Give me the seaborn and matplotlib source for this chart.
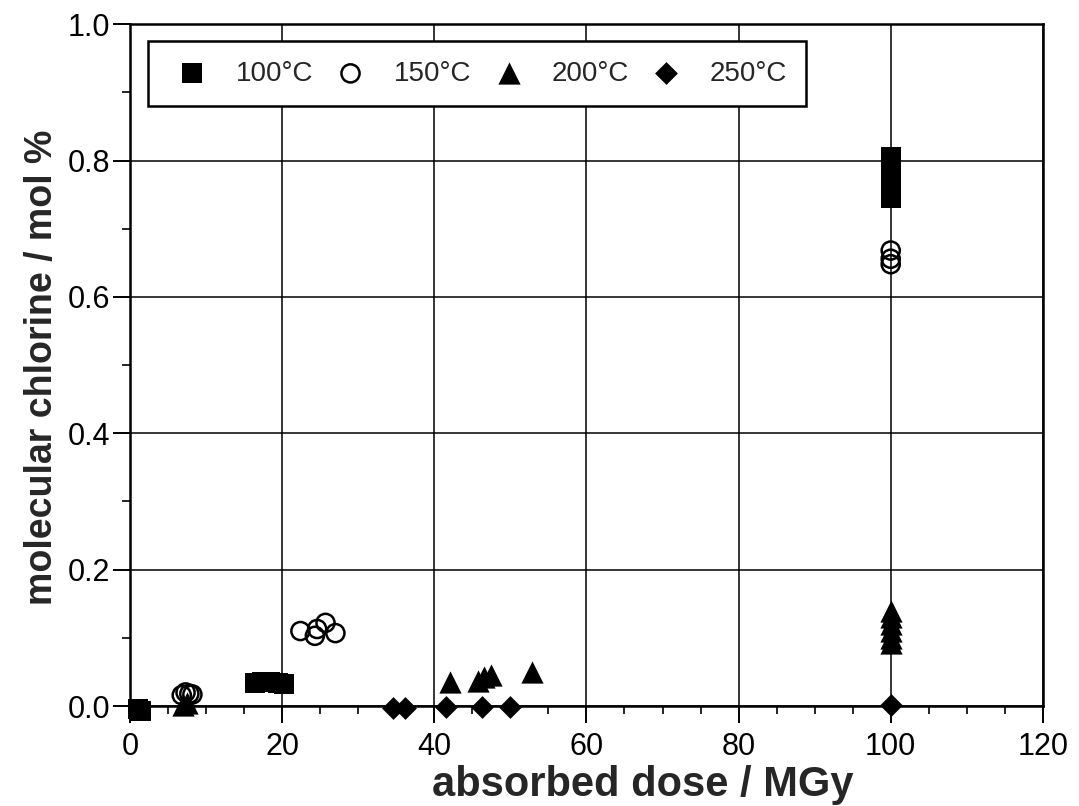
import matplotlib as mpl
mpl.use("Agg")

import matplotlib.pyplot as plt
from matplotlib.ticker import MultipleLocator, FormatStrFormatter
import seaborn as sns
import pandas as pd

sns.set_style("ticks")
plt.rcParams["font.family"] = ["Liberation Sans", "DejaVu Sans"]

# values
dose_100 = [1.0, 1.4, 16.4, 17.4, 18.4, 19.4, 20.3, 100, 100, 100, 100, 100]
cl2_100 = [-0.004, -0.007, 0.034, 0.035, 0.035, 0.034, 0.033, 0.745, 0.76, 0.775, 0.79, 0.805]

dose_150 = [6.8, 7.3, 7.8, 8.2, 22.4, 24.3, 24.6, 25.7, 27.0, 100, 100, 100]
cl2_150 = [0.016, 0.020, 0.018, 0.017, 0.110, 0.103, 0.113, 0.122, 0.107, 0.668, 0.656, 0.648]

dose_200 = [7.0, 7.5, 42.0, 45.8, 46.5, 47.5, 52.8, 100, 100, 100, 100, 100, 100]
cl2_200 = [0.002, 0.004, 0.036, 0.037, 0.042, 0.045, 0.050, 0.092, 0.10, 0.11, 0.12, 0.13, 0.14]

dose_250 = [34.6, 36.2, 41.5, 46.3, 50.0, 100]
cl2_250 = [-0.003, -0.003, -0.002, -0.002, -0.001, 0.001]

temps = ["100°C", "150°C", "200°C", "250°C"]

df = pd.concat([
    pd.DataFrame({"dose": dose_100, "cl2": cl2_100, "temp": temps[0]}),
    pd.DataFrame({"dose": dose_150, "cl2": cl2_150, "temp": temps[1]}),
    pd.DataFrame({"dose": dose_200, "cl2": cl2_200, "temp": temps[2]}),
    pd.DataFrame({"dose": dose_250, "cl2": cl2_250, "temp": temps[3]}),
])

marker_styles = {
    "100°C": dict(marker="s", s=225, facecolor="black", linewidth=0),
    "150°C": dict(marker="o", s=170, facecolor="none", linewidth=1.8),
    "200°C": dict(marker="^", s=256, facecolor="black", linewidth=0),
    "250°C": dict(marker="D", s=135, facecolor="black", linewidth=0),
}

fig = plt.figure(figsize=(10.79, 8.06), dpi=100)
ax = fig.add_axes([0.1205, 0.124, 0.846, 0.846])

for t in temps:
    sns.scatterplot(
        ax=ax,
        x="dose",
        y="cl2",
        data=df[df["temp"] == t],
        color="black",
        edgecolor="black",
        label=t,
        clip_on=False,
        zorder=3,
        legend=False,
        **marker_styles[t],
    )

ax.set_xlim(0, 120)
ax.set_ylim(0, 1.0)
ax.xaxis.set_major_locator(MultipleLocator(20))
ax.xaxis.set_minor_locator(MultipleLocator(5))
ax.yaxis.set_major_locator(MultipleLocator(0.2))
ax.yaxis.set_minor_locator(MultipleLocator(0.1))
ax.yaxis.set_major_formatter(FormatStrFormatter("%.1f"))

ax.grid(True, which="major", color="black", linewidth=1.1)
ax.set_axisbelow(True)

for side in ["left", "right", "top", "bottom"]:
    ax.spines[side].set_visible(True)
    ax.spines[side].set_color("black")
    ax.spines[side].set_linewidth(1.8)

ax.tick_params(axis="both", which="major", direction="out", length=12, width=1.4,
               colors="black", labelsize=22)
ax.tick_params(axis="x", which="major", pad=7)
ax.tick_params(axis="y", which="major", pad=2)
ax.tick_params(axis="both", which="minor", direction="out", length=6, width=1.2, colors="black")

ax.set_xlabel("absorbed dose / MGy", fontsize=30, fontweight="bold")
ax.set_ylabel("molecular chlorine / mol %", fontsize=27, fontweight="bold")
ax.xaxis.set_label_coords(0.562, -0.087)
ax.yaxis.set_label_coords(-0.077, 0.497)

leg = ax.legend(
    loc="upper left",
    bbox_to_anchor=(0.0197, 0.975),
    borderaxespad=0,
    ncol=4,
    fontsize=20,
    frameon=True,
    fancybox=False,
    framealpha=1,
    edgecolor="black",
    borderpad=0.7,
    handlelength=1.8,
    handletextpad=0.65,
    columnspacing=0.45,
    scatterpoints=1,
)
leg.get_frame().set_linewidth(1.8)

fig.savefig("out.png", dpi=100)
